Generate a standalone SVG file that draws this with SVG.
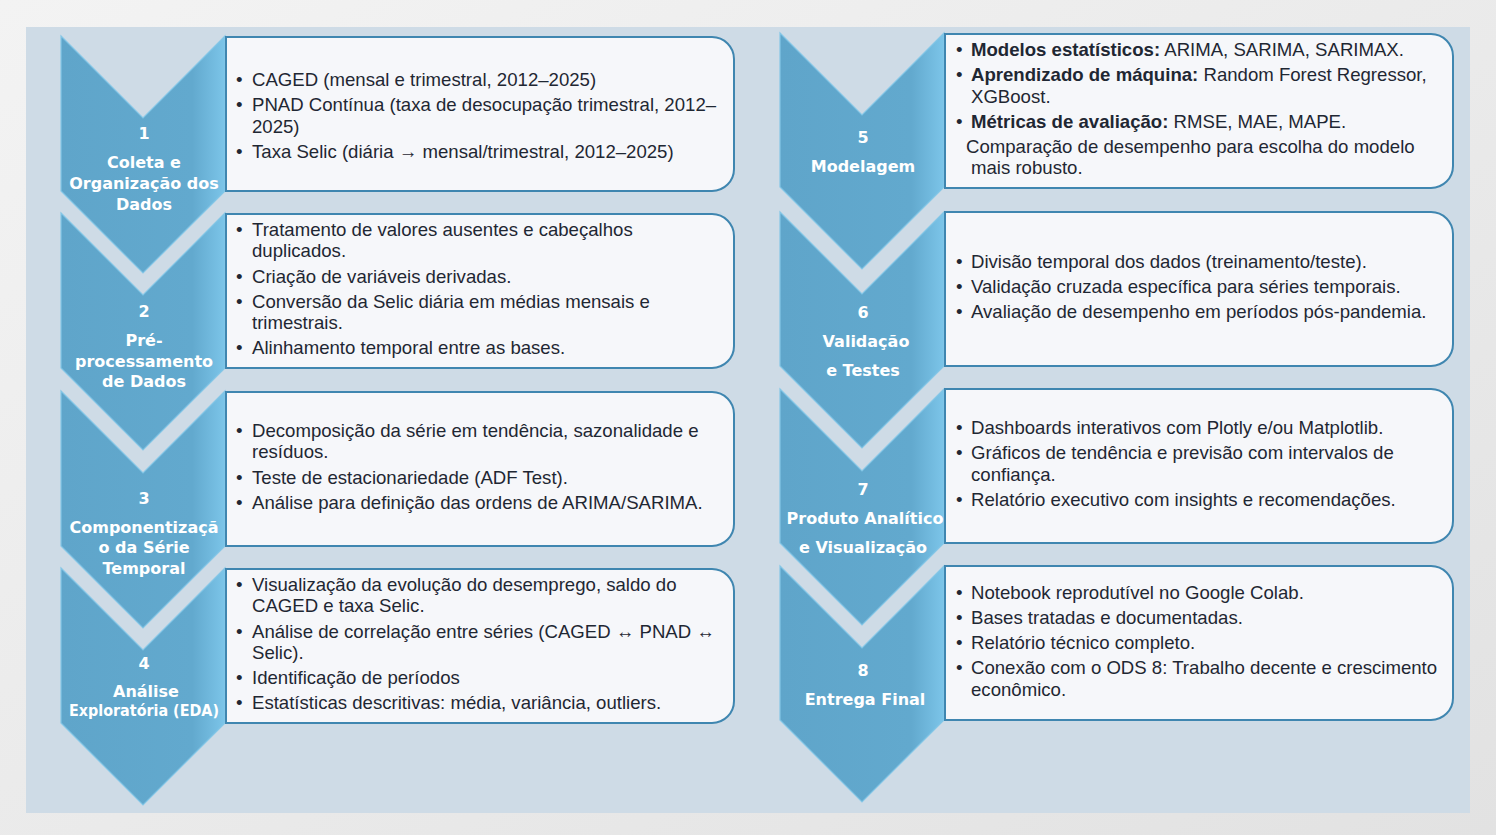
<svg xmlns="http://www.w3.org/2000/svg" width="1496" height="835" viewBox="0 0 1496 835">
<defs>
<linearGradient id="bg" x1="0" y1="0" x2="1" y2="1">
<stop offset="0" stop-color="#f3f3f3"/>
<stop offset="1" stop-color="#e2e2e2"/>
</linearGradient>
<linearGradient id="chev" x1="0" y1="0" x2="1" y2="0">
<stop offset="0" stop-color="#5fa5ca"/>
<stop offset="0.8" stop-color="#62a9ce"/>
<stop offset="1" stop-color="#7cc5e9"/>
</linearGradient>
<style>
.chev{fill:url(#chev);stroke:#84c6e6;stroke-width:1.2;stroke-linejoin:miter}
.box{fill:#f6f7fa;stroke:#3f86b0;stroke-width:2}
.lbl{font-family:"DejaVu Sans","Open Sans",sans-serif;font-weight:700;font-size:16px;fill:#ffffff;text-anchor:middle}
.txt{font-family:"Liberation Sans",Arial,sans-serif;font-size:18.6px;fill:#1f2733}
.b{font-weight:700}
</style>
</defs>
<rect x="0" y="0" width="1496" height="835" fill="url(#bg)"/>
<rect x="26" y="27" width="1444" height="786" fill="#cedbe6"/>

<g id="step1">
<polygon class="chev" points="61,36 143,118 225,36 225,191 143,273 61,191"/>
<path class="box" d="M226,37 H712 A22,22 0 0 1 734,59 V169 A22,22 0 0 1 712,191 H226 Z"/>
<text class="lbl" x="144" y="139">1</text>
<text class="lbl" x="144" y="168">Coleta e</text>
<text class="lbl" x="144" y="189">Organização dos</text>
<text class="lbl" x="144" y="210">Dados</text>
<text class="txt" x="236" y="86">•</text><text class="txt" x="252" y="86">CAGED (mensal e trimestral, 2012–2025)</text>
<text class="txt" x="236" y="111">•</text><text class="txt" x="252" y="111">PNAD Contínua (taxa de desocupação trimestral, 2012–</text>
<text class="txt" x="252" y="133">2025)</text>
<text class="txt" x="236" y="158">•</text><text class="txt" x="252" y="158">Taxa Selic (diária → mensal/trimestral, 2012–2025)</text>
</g>

<g id="step2">
<polygon class="chev" points="61,213 143,295 225,213 225,368 143,450 61,368"/>
<path class="box" d="M226,214 H712 A22,22 0 0 1 734,236 V346 A22,22 0 0 1 712,368 H226 Z"/>
<text class="lbl" x="144" y="317">2</text>
<text class="lbl" x="144" y="346">Pré-</text>
<text class="lbl" x="144" y="367">processamento</text>
<text class="lbl" x="144" y="387">de Dados</text>
<text class="txt" x="236" y="236">•</text><text class="txt" x="252" y="236">Tratamento de valores ausentes e cabeçalhos</text>
<text class="txt" x="252" y="257">duplicados.</text>
<text class="txt" x="236" y="283">•</text><text class="txt" x="252" y="283">Criação de variáveis derivadas.</text>
<text class="txt" x="236" y="308">•</text><text class="txt" x="252" y="308">Conversão da Selic diária em médias mensais e</text>
<text class="txt" x="252" y="329">trimestrais.</text>
<text class="txt" x="236" y="354">•</text><text class="txt" x="252" y="354">Alinhamento temporal entre as bases.</text>
</g>

<g id="step3">
<polygon class="chev" points="61,391 143,473 225,391 225,546 143,628 61,546"/>
<path class="box" d="M226,392 H712 A22,22 0 0 1 734,414 V524 A22,22 0 0 1 712,546 H226 Z"/>
<text class="lbl" x="144" y="504">3</text>
<text class="lbl" x="144" y="533">Componentizaçã</text>
<text class="lbl" x="144" y="553">o da Série</text>
<text class="lbl" x="144" y="574">Temporal</text>
<text class="txt" x="236" y="437">•</text><text class="txt" x="252" y="437">Decomposição da série em tendência, sazonalidade e</text>
<text class="txt" x="252" y="458">resíduos.</text>
<text class="txt" x="236" y="484">•</text><text class="txt" x="252" y="484">Teste de estacionariedade (ADF Test).</text>
<text class="txt" x="236" y="509">•</text><text class="txt" x="252" y="509">Análise para definição das ordens de ARIMA/SARIMA.</text>
</g>

<g id="step4">
<polygon class="chev" points="61,568 143,650 225,568 225,723 143,805 61,723"/>
<path class="box" d="M226,569 H712 A22,22 0 0 1 734,591 V701 A22,22 0 0 1 712,723 H226 Z"/>
<text class="lbl" x="144" y="669">4</text>
<text class="lbl" x="146" y="697">Análise</text>
<text class="lbl" x="144" y="716" textLength="150" lengthAdjust="spacingAndGlyphs">Exploratória (EDA)</text>
<text class="txt" x="236" y="591">•</text><text class="txt" x="252" y="591">Visualização da evolução do desemprego, saldo do</text>
<text class="txt" x="252" y="612">CAGED e taxa Selic.</text>
<text class="txt" x="236" y="638">•</text><text class="txt" x="252" y="638">Análise de correlação entre séries (CAGED ↔ PNAD ↔</text>
<text class="txt" x="252" y="659">Selic).</text>
<text class="txt" x="236" y="684">•</text><text class="txt" x="252" y="684">Identificação de períodos</text>
<text class="txt" x="236" y="709">•</text><text class="txt" x="252" y="709">Estatísticas descritivas: média, variância, outliers.</text>
</g>

<g id="step5">
<polygon class="chev" points="780,33 862,115 944,33 944,187 862,269 780,187"/>
<path class="box" d="M945,34 H1431 A22,22 0 0 1 1453,56 V166 A22,22 0 0 1 1431,188 H945 Z"/>
<text class="lbl" x="863" y="143">5</text>
<text class="lbl" x="863" y="172">Modelagem</text>
<text class="txt" x="956" y="56">•</text><text class="txt" x="971" y="56"><tspan class="b">Modelos estatísticos:</tspan> ARIMA, SARIMA, SARIMAX.</text>
<text class="txt" x="956" y="81">•</text><text class="txt" x="971" y="81"><tspan class="b">Aprendizado de máquina:</tspan> Random Forest Regressor,</text>
<text class="txt" x="971" y="103">XGBoost.</text>
<text class="txt" x="956" y="128">•</text><text class="txt" x="971" y="128"><tspan class="b">Métricas de avaliação:</tspan> RMSE, MAE, MAPE.</text>
<text class="txt" x="966" y="153">Comparação de desempenho para escolha do modelo</text>
<text class="txt" x="971" y="174">mais robusto.</text>
</g>

<g id="step6">
<polygon class="chev" points="780,212 862,294 944,212 944,366 862,448 780,366"/>
<path class="box" d="M945,212 H1431 A22,22 0 0 1 1453,234 V344 A22,22 0 0 1 1431,366 H945 Z"/>
<text class="lbl" x="863" y="318">6</text>
<text class="lbl" x="866" y="347">Validação</text>
<text class="lbl" x="863" y="376">e Testes</text>
<text class="txt" x="956" y="268">•</text><text class="txt" x="971" y="268">Divisão temporal dos dados (treinamento/teste).</text>
<text class="txt" x="956" y="293">•</text><text class="txt" x="971" y="293">Validação cruzada específica para séries temporais.</text>
<text class="txt" x="956" y="318">•</text><text class="txt" x="971" y="318">Avaliação de desempenho em períodos pós-pandemia.</text>
</g>

<g id="step7">
<polygon class="chev" points="780,389 862,471 944,389 944,543 862,625 780,543"/>
<path class="box" d="M945,389 H1431 A22,22 0 0 1 1453,411 V521 A22,22 0 0 1 1431,543 H945 Z"/>
<text class="lbl" x="863" y="495">7</text>
<text class="lbl" x="865" y="524">Produto Analítico</text>
<text class="lbl" x="863" y="553">e Visualização</text>
<text class="txt" x="956" y="434">•</text><text class="txt" x="971" y="434">Dashboards interativos com Plotly e/ou Matplotlib.</text>
<text class="txt" x="956" y="459">•</text><text class="txt" x="971" y="459">Gráficos de tendência e previsão com intervalos de</text>
<text class="txt" x="971" y="481">confiança.</text>
<text class="txt" x="956" y="506">•</text><text class="txt" x="971" y="506">Relatório executivo com insights e recomendações.</text>
</g>

<g id="step8">
<polygon class="chev" points="780,566 862,648 944,566 944,720 862,802 780,720"/>
<path class="box" d="M945,566 H1431 A22,22 0 0 1 1453,588 V698 A22,22 0 0 1 1431,720 H945 Z"/>
<text class="lbl" x="863" y="676">8</text>
<text class="lbl" x="865" y="705">Entrega Final</text>
<text class="txt" x="956" y="599">•</text><text class="txt" x="971" y="599">Notebook reprodutível no Google Colab.</text>
<text class="txt" x="956" y="624">•</text><text class="txt" x="971" y="624">Bases tratadas e documentadas.</text>
<text class="txt" x="956" y="649">•</text><text class="txt" x="971" y="649">Relatório técnico completo.</text>
<text class="txt" x="956" y="674">•</text><text class="txt" x="971" y="674">Conexão com o ODS 8: Trabalho decente e crescimento</text>
<text class="txt" x="971" y="696">econômico.</text>
</g>
</svg>
